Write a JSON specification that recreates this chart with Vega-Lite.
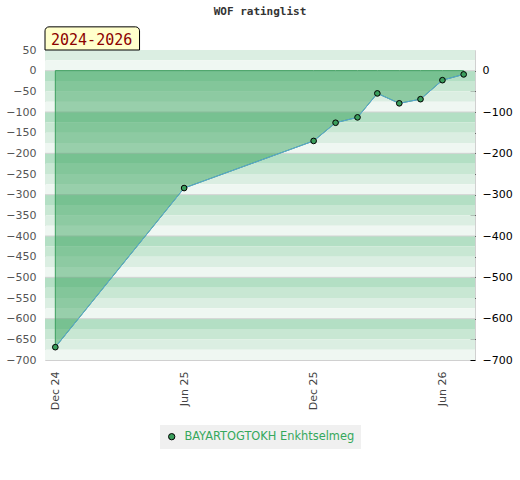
{
  "$schema": "https://vega.github.io/schema/vega-lite/v6.json",
  "width": 430,
  "height": 310,
  "autosize": "none",
  "padding": {"left": 45, "top": 50, "right": 45, "bottom": 120},
  "background": "white",
  "title": {"text": "WOF ratinglist", "font": "DejaVu Sans Mono", "fontSize": 11, "fontWeight": "bold", "color": "#333333", "anchor": "middle", "offset": 9},
  "config": {
    "font": "DejaVu Sans",
    "view": {"stroke": "#d0d0d0", "strokeWidth": 1},
    "axisX": {"title": null, "format": "%b %y", "formatType": "utc", "labelAngle": -90, "ticks": false, "tickSize": 0, "domain": false, "grid": false, "labelPadding": 11, "labelFontSize": 11, "labelColor": "#444444"}
  },
  "datasets": {
    "bands": [
      {"hi": 50, "lo": 25, "shade": "c"},
      {"hi": 25, "lo": 0, "shade": "d"},
      {"hi": 0, "lo": -25, "shade": "a"},
      {"hi": -25, "lo": -50, "shade": "b"},
      {"hi": -50, "lo": -75, "shade": "c"},
      {"hi": -75, "lo": -100, "shade": "d"},
      {"hi": -100, "lo": -125, "shade": "a"},
      {"hi": -125, "lo": -150, "shade": "b"},
      {"hi": -150, "lo": -175, "shade": "c"},
      {"hi": -175, "lo": -200, "shade": "d"},
      {"hi": -200, "lo": -225, "shade": "a"},
      {"hi": -225, "lo": -250, "shade": "b"},
      {"hi": -250, "lo": -275, "shade": "c"},
      {"hi": -275, "lo": -300, "shade": "d"},
      {"hi": -300, "lo": -325, "shade": "a"},
      {"hi": -325, "lo": -350, "shade": "b"},
      {"hi": -350, "lo": -375, "shade": "c"},
      {"hi": -375, "lo": -400, "shade": "d"},
      {"hi": -400, "lo": -425, "shade": "a"},
      {"hi": -425, "lo": -450, "shade": "b"},
      {"hi": -450, "lo": -475, "shade": "c"},
      {"hi": -475, "lo": -500, "shade": "d"},
      {"hi": -500, "lo": -525, "shade": "a"},
      {"hi": -525, "lo": -550, "shade": "b"},
      {"hi": -550, "lo": -575, "shade": "c"},
      {"hi": -575, "lo": -600, "shade": "d"},
      {"hi": -600, "lo": -625, "shade": "a"},
      {"hi": -625, "lo": -650, "shade": "b"},
      {"hi": -650, "lo": -675, "shade": "c"},
      {"hi": -675, "lo": -700, "shade": "d"}
    ],
    "ratings": [
      {"date": "2024-12-01", "value": -669, "player": "BAYARTOGTOKH Enkhtselmeg"},
      {"date": "2025-06-01", "value": -284, "player": "BAYARTOGTOKH Enkhtselmeg"},
      {"date": "2025-12-01", "value": -170, "player": "BAYARTOGTOKH Enkhtselmeg"},
      {"date": "2026-01-01", "value": -126, "player": "BAYARTOGTOKH Enkhtselmeg"},
      {"date": "2026-02-01", "value": -113, "player": "BAYARTOGTOKH Enkhtselmeg"},
      {"date": "2026-03-01", "value": -55, "player": "BAYARTOGTOKH Enkhtselmeg"},
      {"date": "2026-04-01", "value": -79, "player": "BAYARTOGTOKH Enkhtselmeg"},
      {"date": "2026-05-01", "value": -69, "player": "BAYARTOGTOKH Enkhtselmeg"},
      {"date": "2026-06-01", "value": -23, "player": "BAYARTOGTOKH Enkhtselmeg"},
      {"date": "2026-07-01", "value": -9, "player": "BAYARTOGTOKH Enkhtselmeg"}
    ],
    "tag": [{"label": "2024-2026"}]
  },
  "layer": [
    {
      "data": {"name": "bands"},
      "mark": {"type": "rect", "strokeWidth": 0},
      "encoding": {
        "y": {"field": "hi", "type": "quantitative",
          "scale": {"domain": [-700, 50], "nice": false, "zero": false},
          "axis": {"orient": "left", "title": null, "values": [50, 0, -50, -100, -150, -200, -250, -300, -350, -400, -450, -500, -550, -600, -650, -700],
            "ticks": false, "tickSize": 0, "domain": false, "grid": false, "labelPadding": 9, "labelFontSize": 11, "labelColor": "#555555", "labelFont": "DejaVu Sans"}},
        "y2": {"field": "lo"},
        "color": {"field": "shade", "type": "nominal",
          "scale": {"domain": ["a", "b", "c", "d"], "range": ["#b3dfc4", "#c8e7d3", "#dbeee2", "#eff7f2"]},
          "legend": null}
      }
    },
    {
      "data": {"name": "bands"},
      "transform": [{"filter": "datum.shade === 'a'"}],
      "mark": {"type": "rule", "color": "#d3d3d3", "strokeWidth": 1},
      "encoding": {
        "y": {"field": "hi", "type": "quantitative", "axis": null}
      }
    },
    {
      "data": {"name": "ratings"},
      "mark": {"type": "area", "color": "#2f9e55", "fillOpacity": 0.45, "stroke": "#3c9f5e", "strokeWidth": 1},
      "encoding": {
        "x": {"field": "date", "type": "temporal", "title": null,
          "scale": {"type": "utc", "domain": [{"year": 2024, "month": 11, "date": 16, "hours": 10, "utc": true}, {"year": 2026, "month": 7, "date": 17, "utc": true}]},
          "axis": {"values": [
              {"year": 2024, "month": 12, "date": 1, "utc": true},
              {"year": 2025, "month": 6, "date": 1, "utc": true},
              {"year": 2025, "month": 12, "date": 1, "utc": true},
              {"year": 2026, "month": 6, "date": 1, "utc": true}],
            "format": "%b %y", "formatType": "utc"}},
        "y": {"field": "value", "type": "quantitative", "axis": null},
        "y2": {"datum": 0}
      }
    },
    {
      "data": {"name": "ratings"},
      "mark": {"type": "line", "color": "#5aa5d8", "strokeWidth": 1},
      "encoding": {
        "x": {"field": "date", "type": "temporal", "title": null, "axis": {"format": "%b %y", "formatType": "utc"}},
        "y": {"field": "value", "type": "quantitative", "axis": null}
      }
    },
    {
      "data": {"name": "ratings"},
      "mark": {"type": "point", "filled": true, "size": 32, "stroke": "black", "strokeWidth": 1, "opacity": 1},
      "encoding": {
        "x": {"field": "date", "type": "temporal", "title": null, "axis": {"format": "%b %y", "formatType": "utc"}},
        "y": {"field": "value", "type": "quantitative",
          "axis": {"orient": "right", "title": null, "values": [0, -50, -100, -150, -200, -250, -300, -350, -400, -450, -500, -550, -600, -650, -700],
            "labelExpr": "datum.value % 100 === 0 ? datum.label : ''",
            "offset": -5, "tickSize": 5, "tickColor": "black", "domain": false, "grid": false, "labelPadding": 7,
            "labelFontSize": 11, "labelColor": "black"}},
        "color": {"field": "player", "type": "nominal",
          "scale": {"range": ["#3a9e5c"]},
          "legend": {"title": null, "orient": "none", "legendX": 115, "legendY": 375, "fillColor": "#f0f0f0", "padding": 6,
            "labelColor": "#35a85c", "labelFontSize": 11.4, "labelFont": "DejaVu Sans", "labelLimit": 400, "symbolType": "circle", "symbolSize": 40,
            "symbolStrokeColor": "black", "symbolStrokeWidth": 1, "labelOffset": 7}}
      }
    },
    {
      "data": {"name": "tag"},
      "mark": {"type": "rect", "fill": "#ffffcc", "stroke": "black", "strokeWidth": 1, "cornerRadiusTopLeft": 4, "cornerRadiusTopRight": 4, "clip": false},
      "encoding": {
        "x": {"datum": {"year": 2024, "month": 11, "date": 16, "hours": 10, "utc": true}, "type": "temporal", "title": null, "axis": {"format": "%b %y", "formatType": "utc"}},
        "x2": {"datum": {"year": 2025, "month": 3, "date": 30, "utc": true}},
        "y": {"datum": 106, "type": "quantitative", "axis": null},
        "y2": {"datum": 50}
      }
    },
    {
      "data": {"name": "tag"},
      "mark": {"type": "text", "font": "DejaVu Sans Mono", "fontSize": 15, "color": "#8b0000", "align": "left", "baseline": "middle", "dx": 6, "dy": -10, "clip": false},
      "encoding": {
        "text": {"field": "label"},
        "x": {"datum": {"year": 2024, "month": 11, "date": 16, "hours": 10, "utc": true}, "type": "temporal", "title": null, "axis": {"format": "%b %y", "formatType": "utc"}},
        "y": {"datum": 50, "type": "quantitative", "axis": null}
      }
    }
  ],
  "resolve": {"axis": {"y": "independent"}, "scale": {"color": "independent"}}
}
